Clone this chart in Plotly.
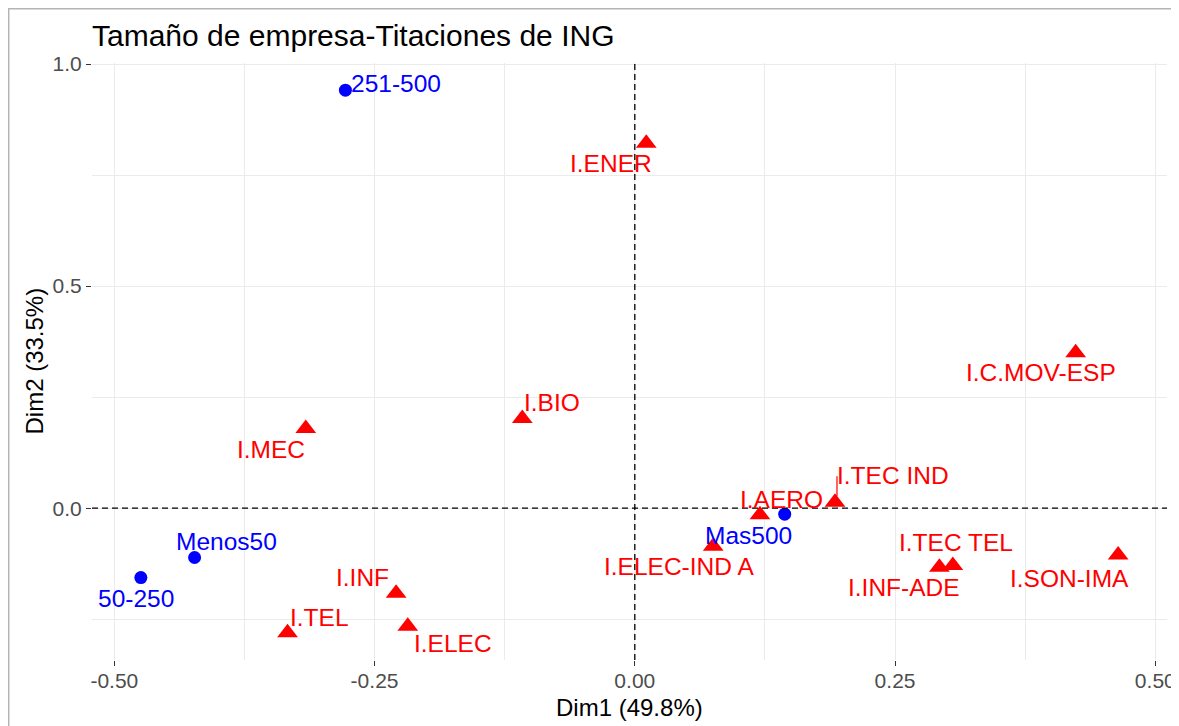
import plotly.graph_objects as go

# ---------------- data ----------------
title_text = "Tamaño de empresa-Titaciones de ING"
x_title = "Dim1 (49.8%)"
y_title = "Dim2 (33.5%)"

col_names = ["251-500", "50-250", "Menos50", "Mas500"]
col_x = [-0.278, -0.4745, -0.4229, 0.1440]
col_y = [0.9414, -0.1562, -0.1111, -0.0135]

row_names = ["I.ENER", "I.C.MOV-ESP", "I.BIO", "I.MEC", "I.TEC IND", "I.AERO",
             "I.ELEC-IND A", "I.TEC TEL", "I.INF-ADE", "I.SON-IMA", "I.INF",
             "I.TEL", "I.ELEC"]
row_x = [0.011, 0.4235, -0.1081, -0.3161, 0.1923, 0.1202,
         0.0753, 0.3055, 0.2926, 0.4643, -0.2293,
         -0.3336, -0.2181]
row_y = [0.822, 0.350, 0.202, 0.1794, 0.0135, -0.015,
         -0.086, -0.129, -0.133, -0.1055, -0.1914,
         -0.2808, -0.2658]

x_ticks = [-0.50, -0.25, 0.00, 0.25, 0.50]
y_ticks = [0.0, 0.5, 1.0]

# label placement (pixel offsets of label centre from its point, +y is up)
label_offsets = {
    "251-500": (51, 7), "50-250": (-5, -21), "Menos50": (32, 16), "Mas500": (-36, -21),
    "I.ENER": (-35, -20), "I.C.MOV-ESP": (-35, -20), "I.BIO": (30, 16), "I.MEC": (-35, -21),
    "I.TEC IND": (58, 27), "I.AERO": (22, 15), "I.ELEC-IND A": (-34, -20),
    "I.TEC TEL": (3, 23), "I.INF-ADE": (-35, -20), "I.SON-IMA": (-49, -23),
    "I.INF": (-34, 16), "I.TEL": (32, 15), "I.ELEC": (45, -17),
}

BLUE = "#0000FF"
RED = "#FF0000"
FONT = "Liberation Sans, Arial, sans-serif"
# the page body adds an 8px margin; the figure is sized/positioned to compensate
W, H = 1171, 718
ML, MR, MT, MB = 84, 12, 55, 66


def expand(vals, f=0.05):
    lo, hi = min(vals), max(vals)
    d = (hi - lo) * f
    return [lo - d, hi + d]


xr = expand(col_x + row_x)
yr = expand(col_y + row_y)

fig = go.Figure()
fig.add_trace(go.Scatter(x=col_x, y=col_y, mode="markers", name="col",
                         marker=dict(symbol="circle", size=13, color=BLUE),
                         hoverinfo="text", text=col_names))
fig.add_trace(go.Scatter(x=row_x, y=row_y, mode="markers", name="row",
                         marker=dict(symbol="triangle-up", size=18, color=RED),
                         hoverinfo="text", text=row_names))

annotations = []
for names, xs, ys, colr in [(col_names, col_x, col_y, BLUE), (row_names, row_x, row_y, RED)]:
    for n, x, y in zip(names, xs, ys):
        dx, dy = label_offsets[n]
        annotations.append(dict(x=x, y=y, xref="x", yref="y", text=n, showarrow=False,
                                xshift=dx, yshift=dy, xanchor="center", yanchor="middle",
                                font=dict(family=FONT, size=24.5, color=colr)))

pw, ph = W - ML - MR, H - MT - MB
# axis titles
annotations.append(dict(x=0.5, y=-(700 - (H - MB)) / ph, xref="paper", yref="paper",
                        text=x_title, showarrow=False, xanchor="center", yanchor="middle",
                        font=dict(family=FONT, size=24, color="black")))
annotations.append(dict(x=(26 - ML) / pw, y=0.5, xref="paper", yref="paper", textangle=-90,
                        text=y_title, showarrow=False, xanchor="center", yanchor="middle",
                        font=dict(family=FONT, size=24, color="black")))

shapes = [
    # dashed reference lines
    dict(type="line", xref="x", yref="paper", x0=0, x1=0, y0=0, y1=1,
         line=dict(color="black", width=1.3, dash="6px,4px"), layer="above"),
    dict(type="line", xref="paper", yref="y", x0=0, x1=1, y0=0, y1=0,
         line=dict(color="black", width=1.3, dash="6px,4px"), layer="above"),
]
# ggrepel segment for I.TEC IND
i = row_names.index("I.TEC IND")
shapes.append(dict(type="line", xref="x", yref="y", xsizemode="pixel", ysizemode="pixel",
                   xanchor=row_x[i], yanchor=row_y[i], x0=2, x1=2, y0=6, y1=26,
                   line=dict(color=RED, width=1.2)))
# outer frame (left and top edges)
fl = (0.2 - ML) / pw
ft = 1 + (MT - 0.2) / ph
shapes.append(dict(type="line", xref="paper", yref="paper", x0=fl, x1=fl, y0=ft, y1=-MB / ph - 0.01,
                   line=dict(color="#b4b4b4", width=2.5)))
shapes.append(dict(type="line", xref="paper", yref="paper", x0=fl, x1=1 + MR / pw + 0.01, y0=ft, y1=ft,
                   line=dict(color="#b4b4b4", width=2.5)))

grid = "#EBEBEB"
fig.update_layout(
    width=W, height=H, autosize=False,
    margin=dict(l=ML, r=MR, t=MT, b=MB, autoexpand=False),
    paper_bgcolor="white", plot_bgcolor="white",
    showlegend=False,
    font=dict(family=FONT, color="black"),
    title=dict(text=title_text, x=0, xref="paper", xanchor="left",
               y=1 - 27 / H, yref="container", yanchor="middle",
               font=dict(family=FONT, size=30, color="black")),
    xaxis=dict(range=xr, tickvals=x_ticks, ticktext=[f"{v:.2f}" for v in x_ticks],
               showgrid=True, gridcolor=grid, gridwidth=1.2, zeroline=False,
               minor=dict(dtick=0.125, tick0=0, showgrid=True, gridcolor=grid, gridwidth=0.8, ticks=""),
               ticks="outside", ticklen=5, tickwidth=1.2, tickcolor="#333333",
               ticklabelstandoff=-3,
               showline=False, automargin=False,
               tickfont=dict(family=FONT, size=21, color="#4D4D4D")),
    yaxis=dict(range=yr, tickvals=y_ticks, ticktext=[f"{v:.1f}" for v in y_ticks],
               showgrid=True, gridcolor=grid, gridwidth=1.2, zeroline=False,
               minor=dict(dtick=0.25, tick0=0, showgrid=True, gridcolor=grid, gridwidth=0.8, ticks=""),
               ticks="outside", ticklen=5, tickwidth=1.2, tickcolor="#333333",
               showline=False, automargin=False,
               tickfont=dict(family=FONT, size=21, color="#4D4D4D")),
    annotations=annotations,
    shapes=shapes,
)

fig.write_html("out.html")
